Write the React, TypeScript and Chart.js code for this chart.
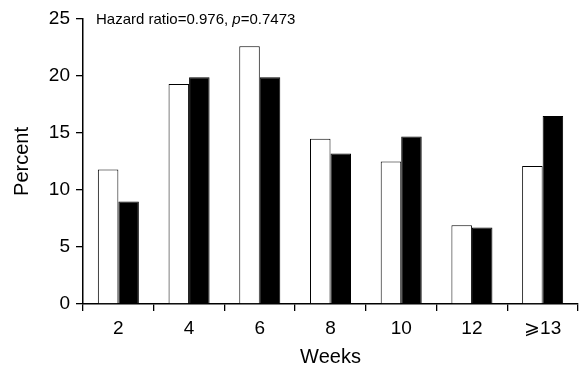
import React, { useEffect, useRef } from "react";
import { Chart, registerables } from "chart.js";

Chart.register(...registerables);

const weeks = ["2", "4", "6", "8", "10", "12", "⩾13"];
const openBars = [11.8, 19.3, 22.6, 14.5, 12.5, 6.9, 12.1];
const filledBars = [9.0, 19.9, 19.9, 13.2, 14.7, 6.7, 16.5];
const yTicks = [0, 5, 10, 15, 20, 25];
const titleParts = ["Hazard ratio=0.976, ", "p", "=0.7473"];

const FONT = "'Liberation Sans', Arial, Helvetica, sans-serif";

const annotationPlugin = {
  id: "hrText",
  afterDraw(chart: any) {
    const ctx = chart.ctx;
    const area = chart.chartArea;
    ctx.save();
    ctx.fillStyle = "#000";
    ctx.textBaseline = "alphabetic";
    ctx.textAlign = "left";
    let x = area.left + 13;
    const y = area.top + 5;
    titleParts.forEach((part, i) => {
      ctx.font = (i === 1 ? "italic " : "") + "15px " + FONT;
      ctx.fillText(part, x, y);
      x += ctx.measureText(part).width;
    });
    ctx.restore();
  },
};

export default function App() {
  const ref = useRef<HTMLCanvasElement>(null);
  useEffect(() => {
    if (!ref.current) return;
    const chart = new Chart(ref.current, {
      type: "bar",
      data: {
        labels: weeks,
        datasets: [
          {
            data: openBars,
            backgroundColor: "#ffffff",
            borderColor: "#000000",
            borderWidth: 1,
            categoryPercentage: 0.58,
            barPercentage: 1,
          },
          {
            data: filledBars,
            backgroundColor: "#000000",
            borderColor: "#000000",
            borderWidth: 1,
            categoryPercentage: 0.58,
            barPercentage: 1,
          },
        ],
      },
      options: {
        animation: false,
        responsive: false,
        layout: { padding: { top: 19, right: 1, left: 0, bottom: 0 } },
        plugins: {
          legend: { display: false },
          tooltip: { enabled: false },
          title: { display: false },
        },
        scales: {
          x: {
            offset: true,
            afterFit(axis: any) {
              axis.height = 68;
              axis.paddingLeft = 0;
              axis.paddingRight = 0;
            },
            grid: {
              offset: true,
              drawOnChartArea: false,
              drawTicks: true,
              tickLength: 7,
              color: "#000",
              lineWidth: 1.3,
            },
            border: { display: true, color: "#000", width: 1.5 },
            ticks: {
              color: "#000",
              font: { family: FONT, size: 19 },
              padding: 6,
            },
            title: {
              display: true,
              text: "Weeks",
              color: "#000",
              font: { family: FONT, size: 20 },
              padding: { top: 0, bottom: 3 },
            },
          },
          y: {
            min: 0,
            max: 25,
            afterBuildTicks(axis: any) {
              axis.ticks = yTicks.map((v) => ({ value: v }));
            },
            afterFit(axis: any) {
              axis.width = 83;
              axis.paddingTop = 0;
              axis.paddingBottom = 0;
            },
            grid: {
              drawOnChartArea: false,
              drawTicks: true,
              tickLength: 7,
              color: "#000",
              lineWidth: 1.3,
            },
            border: { display: true, color: "#000", width: 1.5 },
            ticks: {
              color: "#000",
              font: { family: FONT, size: 19 },
              padding: 6,
            },
            title: {
              display: true,
              text: "Percent",
              color: "#000",
              font: { family: FONT, size: 20 },
              padding: { top: 10, bottom: 0 },
            },
          },
        },
      },
      plugins: [annotationPlugin],
    });
    return () => chart.destroy();
  }, []);
  return (
    <div style={{ position: "fixed", left: 0, top: 0, width: 579, height: 372, background: "#fff" }}>
      <canvas ref={ref} width={579} height={372} style={{ width: 579, height: 372 }} />
    </div>
  );
}
